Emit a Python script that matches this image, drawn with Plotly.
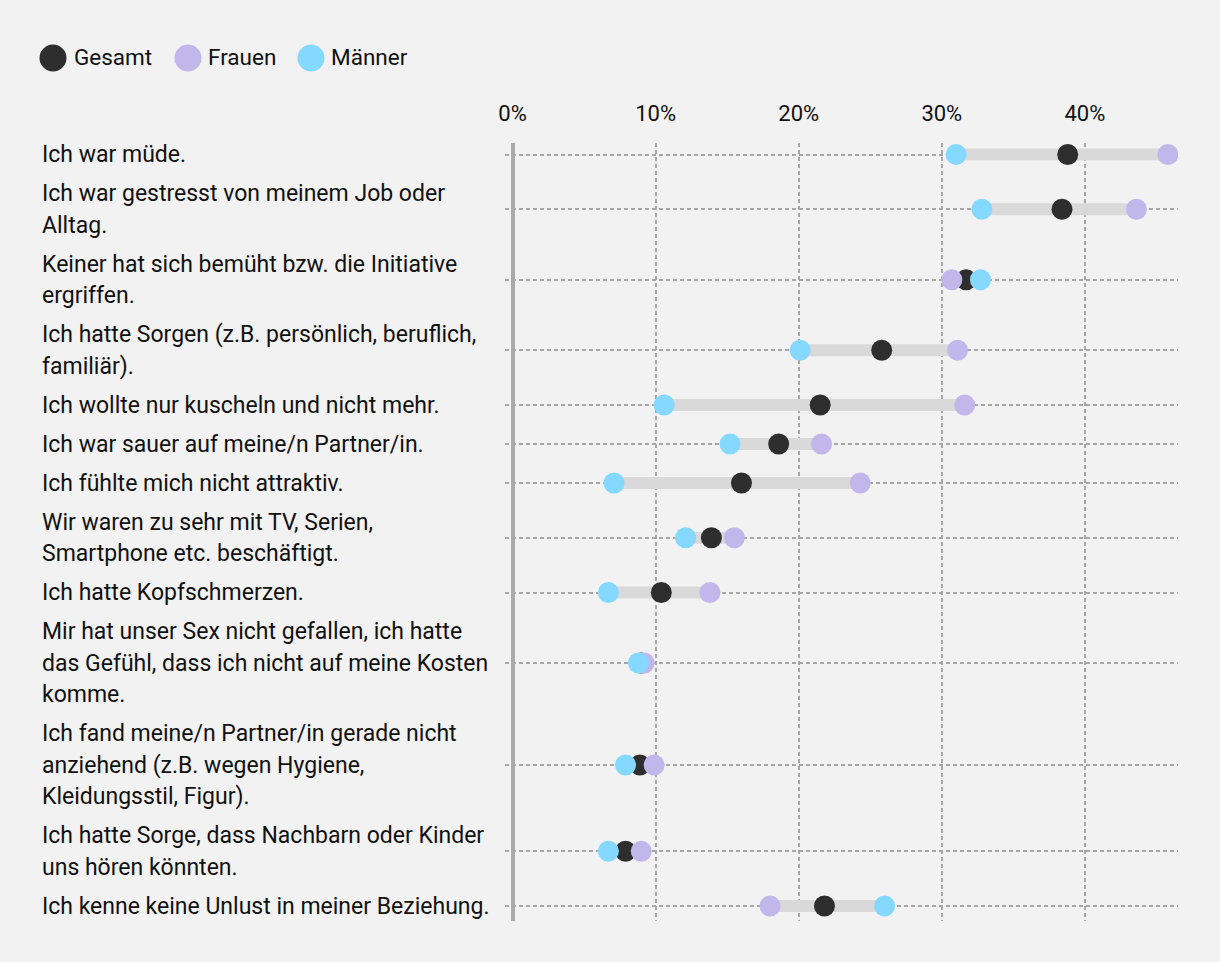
import plotly.graph_objects as go

# ---------------- data ----------------
labels = [
    ["Ich war müde."],
    ["Ich war gestresst von meinem Job oder", "Alltag."],
    ["Keiner hat sich bemüht bzw. die Initiative", "ergriffen."],
    ["Ich hatte Sorgen (z.B. persönlich, beruflich,", "familiär)."],
    ["Ich wollte nur kuscheln und nicht mehr."],
    ["Ich war sauer auf meine/n Partner/in."],
    ["Ich fühlte mich nicht attraktiv."],
    ["Wir waren zu sehr mit TV, Serien,", "Smartphone etc. beschäftigt."],
    ["Ich hatte Kopfschmerzen."],
    ["Mir hat unser Sex nicht gefallen, ich hatte", "das Gefühl, dass ich nicht auf meine Kosten", "komme."],
    ["Ich fand meine/n Partner/in gerade nicht", "anziehend (z.B. wegen Hygiene,", "Kleidungsstil, Figur)."],
    ["Ich hatte Sorge, dass Nachbarn oder Kinder", "uns hören könnten."],
    ["Ich kenne keine Unlust in meiner Beziehung."],
]
gesamt = [38.8, 38.4, 31.7, 25.8, 21.5, 18.6, 16.0, 13.9, 10.4, 9.0, 8.9, 7.9, 21.8]
frauen = [45.8, 43.6, 30.7, 31.1, 31.6, 21.6, 24.3, 15.5, 13.8, 9.2, 9.9, 9.0, 18.0]
maenner = [31.0, 32.8, 32.7, 20.1, 10.6, 15.2, 7.1, 12.1, 6.7, 8.8, 7.9, 6.7, 26.0]
series_names = ["Gesamt", "Frauen", "Männer"]
tick_values = [0, 10, 20, 30, 40]
tick_labels = ["0%", "10%", "20%", "30%", "40%"]

# ---------------- style ----------------
BG = "#f2f2f2"
C_G = "#2e2e2e"
C_F = "#c2b7ea"
C_M = "#85d8ff"
BAR = "#d9d9d9"
GRID = "#a6a6a6"
TXT = "#111111"
FONT = "Roboto"

W, H = 1220, 962
L_PX, R_PX, T_PX, B_PX = 505, 1178, 143, 921
LINE_H = 31.5
ROW_PAD = 7.5

# row centres (in pixel-like units on the y axis)
centres = []
start = 135.0
for lab in labels:
    h = ROW_PAD + LINE_H * len(lab)
    centres.append(start + h / 2)
    start += h

def px_x(px):
    return (px - L_PX) / (R_PX - L_PX)

def px_y(py):
    return (B_PX - py) / (B_PX - T_PX)

fig = go.Figure()

# range bars
bx, by = [], []
for g, f, m, c in zip(gesamt, frauen, maenner, centres):
    bx += [min(g, f, m), max(g, f, m), None]
    by += [c, c, None]
fig.add_trace(go.Scatter(x=bx, y=by, mode="lines", line=dict(color=BAR, width=12),
                         hoverinfo="skip", showlegend=False))

for name, vals, col in zip(series_names, [gesamt, frauen, maenner], [C_G, C_F, C_M]):
    fig.add_trace(go.Scatter(x=vals, y=centres, mode="markers", name=name,
                             marker=dict(color=col, size=21, line=dict(width=0)),
                             showlegend=False))

annotations = []
for lab, c in zip(labels, centres):
    n = len(lab)
    for i, line in enumerate(lab):
        annotations.append(dict(
            x=px_x(40), xref="paper", xanchor="left",
            y=c + (i - (n - 1) / 2) * LINE_H, yref="y", yanchor="middle",
            text=line, showarrow=False, align="left",
            font=dict(family=FONT, size=23, color=TXT)))

# manual legend
shapes = []
leg_circle_x = [53, 188, 311]
leg_text_x = [72, 206, 329]
leg_y = 58
r = 13.5
for name, col, cx, tx in zip(series_names, [C_G, C_F, C_M], leg_circle_x, leg_text_x):
    shapes.append(dict(type="circle", xref="paper", yref="paper",
                       x0=px_x(cx - r), x1=px_x(cx + r), y0=px_y(leg_y + r), y1=px_y(leg_y - r),
                       fillcolor=col, line=dict(width=0), layer="above"))
    annotations.append(dict(x=px_x(tx), xref="paper", xanchor="left",
                            y=px_y(leg_y - 1), yref="paper", yanchor="middle",
                            text=name, showarrow=False,
                            font=dict(family=FONT, size=22.5, color=TXT)))

x0 = -(512.5 - L_PX) / 14.31
x1 = x0 + (R_PX - L_PX) / 14.31

fig.update_layout(
    width=W, height=H,
    paper_bgcolor=BG, plot_bgcolor=BG,
    margin=dict(l=L_PX, r=W - R_PX, t=T_PX, b=H - B_PX),
    showlegend=False,
    shapes=shapes,
    annotations=annotations,
    xaxis=dict(range=[x0, x1], side="top", tickvals=tick_values, ticktext=tick_labels,
               tickfont=dict(family=FONT, size=22, color=TXT),
               ticks="outside", ticklen=12, tickcolor="rgba(0,0,0,0)",
               showgrid=True, gridcolor=GRID, gridwidth=1.5, griddash="4px,3px",
               zeroline=True, zerolinecolor="#aaaaaa", zerolinewidth=3.5,
               showline=False, fixedrange=True),
    yaxis=dict(range=[B_PX, T_PX], tickvals=centres, showticklabels=False,
               showgrid=True, gridcolor=GRID, gridwidth=1.5, griddash="4px,3px",
               zeroline=False, showline=False, fixedrange=True),
)

fig.write_html("out.html", config={"displayModeBar": False},
               post_script="document.body.style.margin='0px';document.body.style.background='#f2f2f2';")
